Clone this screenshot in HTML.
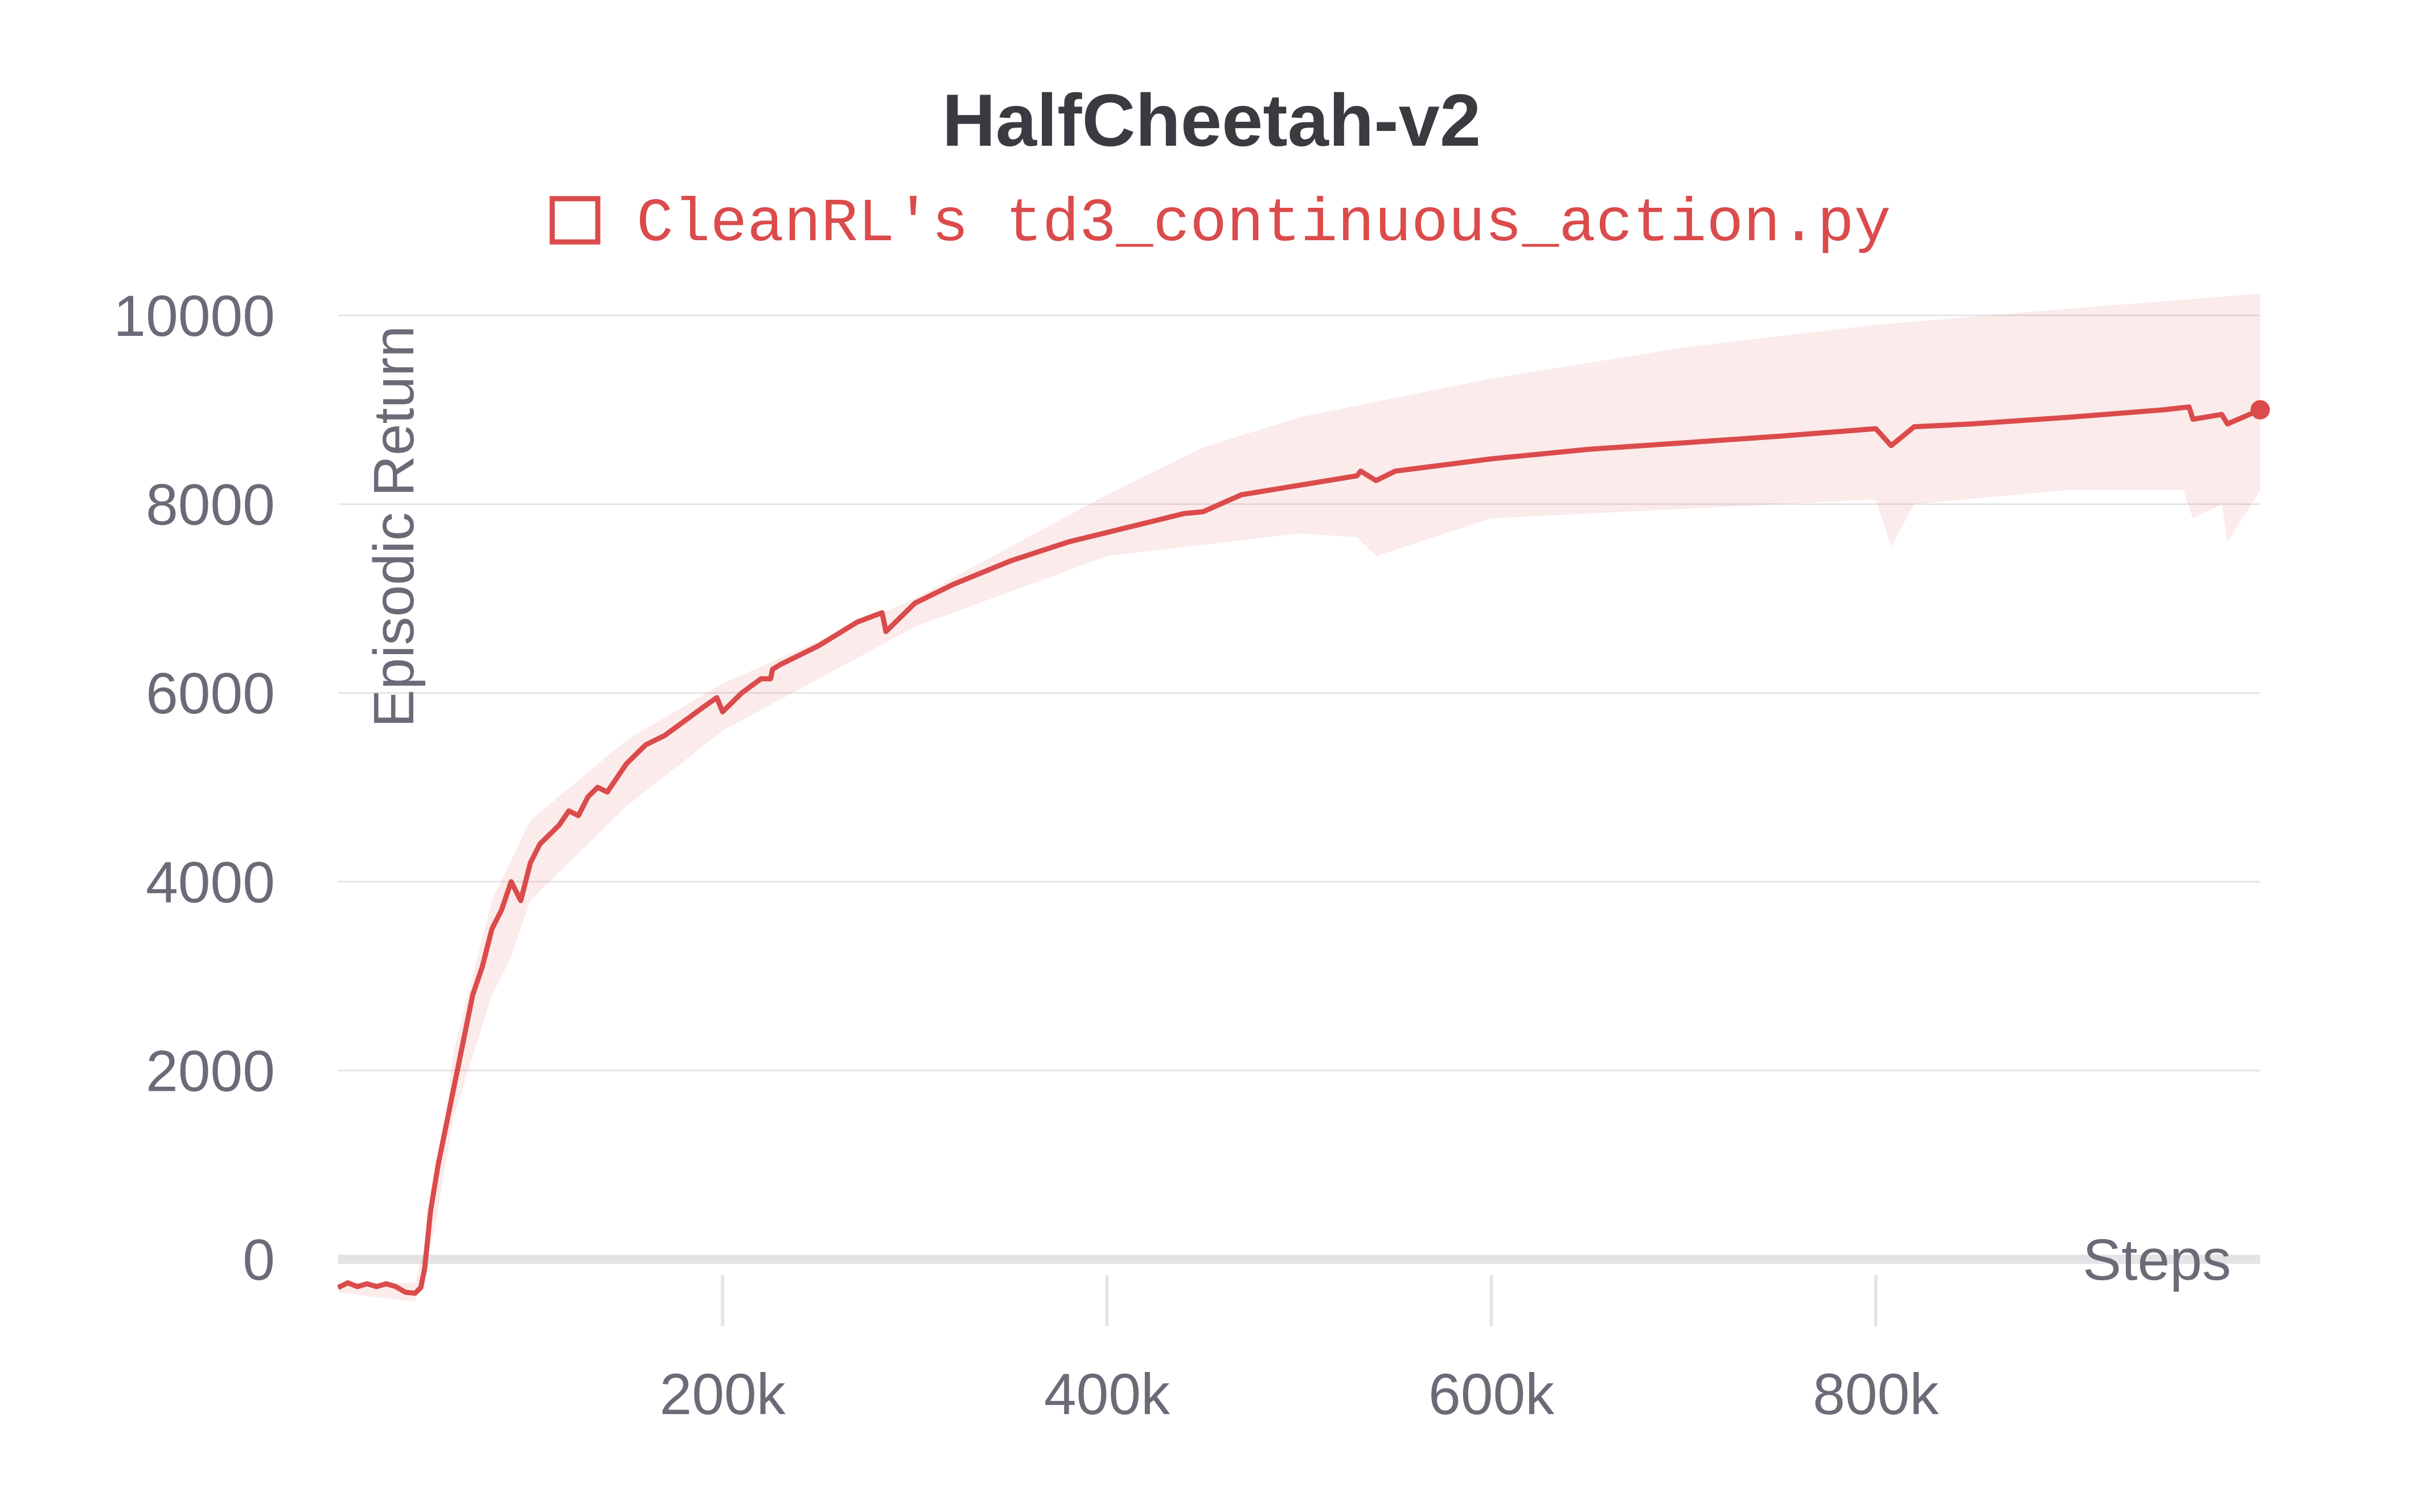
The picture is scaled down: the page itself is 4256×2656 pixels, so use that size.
<!DOCTYPE html>
<html><head><meta charset="utf-8"><style>
html,body{margin:0;padding:0;background:#fff;}
svg{display:block;}
text{font-family:"Liberation Sans",sans-serif;}
</style></head><body>
<svg id="chart" width="4256" height="2656" viewBox="0 0 4256 2656" xmlns="http://www.w3.org/2000/svg">
<text x="2128" y="256" text-anchor="middle" font-size="130" font-weight="bold" fill="#3a3b40">HalfCheetah-v2</text>
<g>
<rect x="970" y="349" width="80" height="76" fill="none" stroke="#db4b4b" stroke-width="9"/>
<text x="1118" y="422" font-size="108" fill="#db4b4b" style="font-family:'Liberation Mono',monospace">CleanRL's td3_continuous_action.py</text>
</g>
<g id="grid"></g>
<g id="band"></g>
<g id="line"></g>
<text transform="translate(726,925) rotate(-90)" text-anchor="middle" font-size="100" fill="#6b6b78">Episodic Return</text>
<text x="3919" y="2248" text-anchor="end" font-size="102" fill="#6b6b78">Steps</text>
</svg>
<script>
const xTicks=[200,400,600,800];
const xTickLabels=["200k","400k","600k","800k"];
const yTicks=[0,2000,4000,6000,8000,10000];
const yTickLabels=["0","2000","4000","6000","8000","10000"];
const meanX=[0,5,10,15,20,25,30,35,40,43,45,48,52,56,60,65,70,75,80,85,90,95,100,105,110,115,120,125,130,135,140,145,150,160,170,180,190,197,200,210,220,225,226,230,250,270,283,285,300,320,350,380,400,430,440,450,470,500,530,532,540,550,600,650,700,750,800,808,820,850,900,950,963,965,980,983,1000];
const meanY=[-300,-250,-290,-260,-290,-260,-290,-350,-360,-300,-100,500,1000,1400,1800,2300,2800,3100,3500,3700,4000,3800,4200,4400,4500,4600,4750,4700,4900,5000,4950,5100,5250,5450,5550,5700,5850,5950,5800,6000,6150,6150,6250,6300,6500,6750,6850,6650,6950,7150,7400,7600,7700,7850,7900,7920,8100,8200,8300,8350,8250,8350,8480,8580,8650,8720,8800,8620,8820,8850,8920,9000,9030,8900,8950,8850,9000];
const lowerX=[0,40,50,60,80,90,100,150,200,300,400,500,530,540,600,700,800,808,820,900,960,965,980,983,1000];
const lowerY=[-350,-450,300,1500,2800,3200,3800,4800,5600,6700,7450,7690,7650,7450,7850,7950,8050,7550,8000,8150,8150,7850,8000,7600,8150];
const upperX=[0,40,50,60,80,100,150,200,300,350,400,450,500,600,700,800,900,1000];
const upperY=[-250,-250,500,2200,3800,4650,5500,6100,7000,7550,8100,8600,8920,9330,9660,9900,10070,10230];

const X0=594,X1=3970,Y0=2212,Y1=554;
const sx=v=>X0+(v/1000)*(X1-X0);
const sy=v=>Y0-(v/10000)*(Y0-Y1);
const NS="http://www.w3.org/2000/svg";
function mk(tag,attrs,parent){const e=document.createElementNS(NS,tag);for(const k in attrs)e.setAttribute(k,attrs[k]);parent.appendChild(e);return e;}
const grid=document.getElementById('grid');
yTicks.forEach((t,i)=>{
  if(t!==0){
    const l=mk('line',{x1:X0,x2:X1,y1:sy(t),y2:sy(t),stroke:'#e6e6e8','stroke-width':3},grid);
    
    
  }
  const tx=mk('text',{x:483,y:sy(t)+36,'text-anchor':'end','font-size':102,fill:'#6b6b78'},grid);
  tx.textContent=yTickLabels[i];
  
  
});
const zl=mk('line',{x1:X0,x2:X1,y1:Y0,y2:Y0,stroke:'#e4e4e7','stroke-width':16},grid);


xTicks.forEach((t,i)=>{
  const l=mk('line',{x1:sx(t),x2:sx(t),y1:2240,y2:2330,stroke:'#e4e4e7','stroke-width':6},grid);
  
  
  const tx=mk('text',{x:sx(t),y:2484,'text-anchor':'middle','font-size':102,fill:'#6b6b78'},grid);
  tx.textContent=xTickLabels[i];
  
  
});
let d='';
upperX.forEach((x,i)=>{d+=(i?'L':'M')+sx(x)+','+sy(upperY[i]);});
for(let i=lowerX.length-1;i>=0;i--){d+='L'+sx(lowerX[i])+','+sy(lowerY[i]);}
d+='Z';
const band=mk('path',{d:d,fill:'rgba(219,75,75,0.11)'},document.getElementById('band'));


let ld='';
meanX.forEach((x,i)=>{ld+=(i?'L':'M')+sx(x)+','+sy(meanY[i]);});
const line=mk('path',{d:ld,fill:'none',stroke:'#db4b4b','stroke-width':9,'stroke-linejoin':'round'},document.getElementById('line'));


const n=meanX.length-1;
const dot=mk('circle',{cx:sx(meanX[n]),cy:sy(meanY[n]),r:17,fill:'#db4b4b'},document.getElementById('line'));


</script>
</body></html>
